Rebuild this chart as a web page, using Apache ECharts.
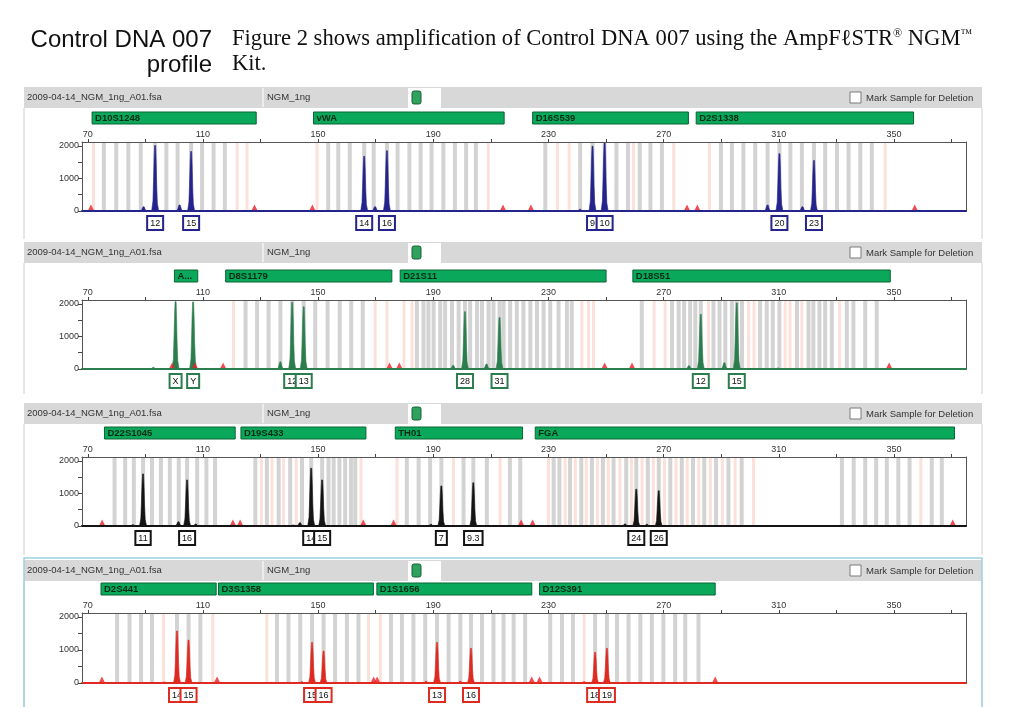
<!DOCTYPE html>
<html><head><meta charset="utf-8">
<script src="https://cdn.jsdelivr.net/npm/echarts@6/dist/echarts.min.js"></script>
<style>html,body{margin:0;padding:0;background:#fff;}#chart{width:1024px;height:707px;}</style>
</head><body><div id="chart"></div>
<script>
// ---- axis ticks / labels ----
const xTicks = [70,90,110,130,150,170,190,210,230,250,270,290,310,330,350,370];
const xLabels = [70,110,150,190,230,270,310,350];
const yTicks = [0,500,1000,1500,2000];
const yLabels = [0,1000,2000];

// ---- header texts ----
const sampleFile = '2009-04-14_NGM_1ng_A01.fsa';
const sampleName = 'NGM_1ng';
const markText = 'Mark Sample for Deletion';

// ---- panel 1 (blue dye) ----
const p1LocusNames = ['D10S1248','vWA','D16S539','D2S1338'];
const p1LocusRanges = [[71.5,128.5],[148.4,214.6],[224.5,278.6],[281.3,356.8]];
const p1Peaks = [[89.4,130],[93.4,2010],[101.9,185],[105.9,1830],[166.0,1680],[169.8,130],[173.9,1850],[241.0,50],[245.3,1990],[249.5,2100],[306.1,185],[310.2,1760],[318.2,130],[322.2,1555]];
const p1Alleles = ['12','15','14','16','9','10','20','23'];
const p1AllelePos = [93.4,105.9,166.0,173.9,245.3,249.5,310.2,322.2];
const p1Markers = [71.1,127.9,148.0,214.2,223.9,278.1,281.7,357.2];
const p1GrayBins = [75.6,79.9,84.1,88.4,93.4,97.3,101.2,105.9,109.7,113.7,117.6,153.5,157.0,161.0,166.0,169.3,173.9,177.6,181.7,185.6,189.4,193.5,197.5,201.4,204.8,228.9,241.0,245.3,249.5,253.6,257.6,261.7,265.4,269.4,289.9,293.7,297.7,301.8,306.1,310.2,314.0,318.0,322.2,326.1,330.2,334.2,338.3,342.3];
const p1PinkBins = [72.0,121.9,125.3,149.6,209.1,233.1,237.2,259.5,273.5,285.9,346.9];

// ---- panel 2 (green dye) ----
const p2LocusNames = ['A...','D8S1179','D21S11','D18S51'];
const p2LocusRanges = [[100.1,108.2],[117.9,175.6],[178.5,250.0],[259.3,348.7]];
const p2Peaks = [[92.8,50],[100.5,2070],[106.6,2060],[136.9,220],[141.0,2050],[145.0,1910],[196.9,110],[201.0,1760],[208.5,150],[213.0,1580],[278.8,100],[282.9,1680],[291.1,190],[295.4,2030],[309.7,30]];
const p2Alleles = ['X','Y','12','13','28','31','12','15'];
const p2AllelePos = [100.5,106.6,141.0,145.0,201.0,213.0,282.9,295.4];
const p2Markers = [99.3,107.2,117.0,174.8,178.2,249.5,259.0,348.3];
const p2GrayBins = [124.8,128.8,132.8,136.9,141.0,145.0,149.0,153.3,157.5,161.5,165.5,184.3,186.6,188.3,190.1,192.4,194.1,196.5,198.8,201.0,202.8,205.2,206.9,209.2,210.9,213.0,214.4,216.7,219.0,221.3,223.7,226.0,228.3,230.6,233.5,236.4,238.1,262.4,272.9,275.2,277.1,279.2,281.0,282.9,287.3,289.4,291.4,293.7,295.4,297.2,303.5,305.8,307.9,310.2,316.3,320.3,322.0,324.1,326.1,328.4,333.6,335.9,340.0,344.0];
const p2PinkBins = [120.6,169.8,173.9,179.8,182.6,241.6,243.9,245.6,266.7,270.5,285.6,299.5,301.4,312.2,313.9,318.0,331.1];

// ---- panel 3 (black dye) ----
const p3LocusNames = ['D22S1045','D19S433','TH01','FGA'];
const p3LocusRanges = [[75.8,121.2],[123.2,166.6],[176.8,221.0],[225.4,371.0]];
const p3Peaks = [[85.7,40],[89.2,1600],[101.5,130],[104.5,1415],[107.5,60],[141.4,30],[143.7,100],[147.6,1775],[151.4,1415],[189.2,50],[192.8,1230],[203.9,1330],[256.6,60],[260.5,1130],[264.2,50],[268.3,1085]];
const p3Alleles = ['11','16','14','15','7','9.3','24','26'];
const p3AllelePos = [89.2,104.5,147.6,151.4,192.8,203.9,260.5,268.3];
const p3Markers = [75.0,120.4,122.9,165.7,176.2,220.5,224.5,370.4];
const p3GrayBins = [79.3,83.0,86.0,89.2,92.3,95.4,98.5,101.6,104.5,108.0,111.2,114.2,128.2,132.2,136.3,140.3,144.4,147.6,151.4,153.6,155.4,157.4,159.4,161.4,162.9,180.8,184.9,188.9,192.8,200.5,203.9,208.6,216.6,220.2,231.8,233.8,237.5,241.4,245.1,248.9,252.6,257.0,260.5,264.5,268.3,272.3,276.3,280.2,284.1,288.2,292.5,297.1,331.9,336.0,340.0,343.8,347.5,351.5,355.4,363.1,366.6];
const p3PinkBins = [130.3,134.0,138.0,142.4,164.9,177.4,197.0,213.2,230.0,235.8,239.3,243.1,247.0,250.8,254.8,258.8,262.5,266.4,270.3,274.3,278.2,282.2,286.2,290.4,294.8,301.2,359.3];

// ---- panel 4 (red dye) ----
const p4LocusNames = ['D2S441','D3S1358','D1S1656','D12S391'];
const p4LocusRanges = [[74.6,114.6],[115.4,169.2],[170.4,224.2],[226.9,287.9]];
const p4Peaks = [[96.7,30],[101.0,1575],[105.0,1300],[144.4,40],[147.9,1230],[151.9,970],[187.5,50],[191.3,1230],[199.4,50],[203.1,1050],[242.4,40],[246.2,930],[250.3,1050]];
const p4Alleles = ['14','15','15','16','13','16','18','19'];
const p4AllelePos = [101.0,105.0,147.9,151.9,191.3,203.1,246.2,250.3];
const p4Markers = [74.9,114.9,169.3,170.5,224.2,226.9,287.9];
const p4GrayBins = [80.2,84.5,88.5,92.3,101.0,105.0,109.1,135.7,139.7,143.8,147.9,151.9,155.9,160.0,164.0,175.3,179.1,183.1,187.2,191.3,195.3,199.4,203.1,206.9,210.9,214.4,217.9,221.9,230.6,234.7,238.5,246.2,250.3,253.8,257.8,261.9,265.9,269.9,274.0,277.5,282.1];
const p4PinkBins = [96.3,113.4,132.2,167.5,171.6,242.4];

const panels = [
  {names:p1LocusNames, ranges:p1LocusRanges, peaks:p1Peaks, alleles:p1Alleles, allelePos:p1AllelePos, markers:p1Markers, gray:p1GrayBins, pink:p1PinkBins},
  {names:p2LocusNames, ranges:p2LocusRanges, peaks:p2Peaks, alleles:p2Alleles, allelePos:p2AllelePos, markers:p2Markers, gray:p2GrayBins, pink:p2PinkBins},
  {names:p3LocusNames, ranges:p3LocusRanges, peaks:p3Peaks, alleles:p3Alleles, allelePos:p3AllelePos, markers:p3Markers, gray:p3GrayBins, pink:p3PinkBins},
  {names:p4LocusNames, ranges:p4LocusRanges, peaks:p4Peaks, alleles:p4Alleles, allelePos:p4AllelePos, markers:p4Markers, gray:p4GrayBins, pink:p4PinkBins}
];

// ---- layout / style ----
const layout = [
  {top:142, h:69, head:87},
  {top:300, h:69, head:242},
  {top:457, h:69, head:403},
  {top:613, h:70, head:560}
];
const dye = ['#24248c','#2b7d4e','#141414','#de2a20'];
const SANS = '"Liberation Sans", Arial, sans-serif';

const grids = [], xAxes = [], yAxes = [], series = [], graphics = [];

panels.forEach((p, i) => {
  const L = layout[i];
  grids.push({left:82, top:L.top, width:884, height:L.h});
  xAxes.push({type:'value', gridIndex:i, position:'top', min:68, max:375, z:6,
    axisLine:{show:true, onZero:false, lineStyle:{color:'#555', width:1}},
    axisTick:{show:true, customValues:xTicks, length:3, lineStyle:{color:'#444'}},
    axisLabel:{show:true, customValues:xLabels, fontSize:9, color:'#333', margin:3, fontFamily:SANS, formatter:v => String(v)},
    splitLine:{show:false}});
  xAxes.push({type:'value', gridIndex:i, position:'bottom', min:68, max:375, z:6,
    axisLine:{show:true, onZero:false, lineStyle:{color:dye[i], width:2}},
    axisTick:{show:false}, axisLabel:{show:false}, splitLine:{show:false}});
  yAxes.push({type:'value', gridIndex:i, position:'left', min:0, max:2120, z:6,
    axisLine:{show:true, onZero:false, lineStyle:{color:'#555'}},
    axisTick:{show:true, customValues:yTicks, length:4, lineStyle:{color:'#444'}},
    axisLabel:{show:true, customValues:yLabels, fontSize:9, color:'#333', margin:3, fontFamily:SANS, formatter:v => String(v)},
    splitLine:{show:false}});
  yAxes.push({type:'value', gridIndex:i, position:'right', min:0, max:2120, z:6,
    axisLine:{show:true, onZero:false, lineStyle:{color:'#555'}},
    axisTick:{show:false}, axisLabel:{show:false}, splitLine:{show:false}});
  const xi = 2*i, yi = 2*i;
  const color = dye[i];

  // bins (gray and pink stripes)
  [[p.gray,'#d3d3d3',4],[p.pink,'#fbe1d9',3]].forEach(([arr, fill, w]) => {
    series.push({type:'custom', xAxisIndex:xi, yAxisIndex:yi, z:1, silent:true,
      data: arr.map(v => [v, 0]), encode:{x:0, y:1},
      renderItem:(params, api) => {
        const c = api.coord([api.value(0), 0]);
        const cs = params.coordSys;
        return {type:'rect', shape:{x:c[0]-w/2, y:cs.y+1, width:w, height:cs.height-2}, style:{fill}};
      }});
  });

  // peaks
  series.push({type:'custom', xAxisIndex:xi, yAxisIndex:yi, z:3, silent:true,
    data: p.peaks, encode:{x:0, y:1},
    renderItem:(params, api) => {
      const t = api.coord([api.value(0), api.value(1)]);
      const b = api.coord([api.value(0), 0]);
      const h = b[1] - t[1];
      return {type:'polygon', shape:{points:[
        [b[0]-3.5, b[1]], [b[0]-2.2, b[1]-h*0.15], [b[0]-1.6, b[1]-h*0.45], [b[0]-1.0, b[1]-h*0.8], [t[0]-0.5, t[1]],
        [t[0]+0.5, t[1]], [b[0]+1.0, b[1]-h*0.75], [b[0]+1.5, b[1]-h*0.4], [b[0]+2.2, b[1]-h*0.12], [b[0]+3.5, b[1]]]},
        style:{fill:color, stroke:color, lineWidth:0.6}};
    }});

  // red markers on baseline
  series.push({type:'scatter', xAxisIndex:xi, yAxisIndex:yi, z:4, silent:true,
    data: p.markers.map(v => [v, 0]), symbol:'triangle', symbolSize:[7,7], symbolOffset:[0,-3],
    itemStyle:{color:'#ee1d25'}});

  // locus bars
  series.push({type:'custom', xAxisIndex:xi, yAxisIndex:yi, z:4, silent:true,
    data: p.ranges, encode:{x:[0,1]},
    renderItem:(params, api) => {
      const s = api.coord([api.value(0), 0]);
      const e = api.coord([api.value(1), 0]);
      const y = params.coordSys.y - 30;
      return {type:'group', children:[
        {type:'rect', shape:{x:s[0], y:y, width:e[0]-s[0], height:12}, style:{fill:'#0aa85b', stroke:'#0b6434', lineWidth:1}},
        {type:'text', style:{text:p.names[params.dataIndex], x:s[0]+3, y:y+6.5, verticalAlign:'middle', font:'bold 9.5px ' + SANS, fill:'#082a14'}}
      ]};
    }});

  // allele boxes
  series.push({type:'custom', xAxisIndex:xi, yAxisIndex:yi, z:5, silent:true,
    data: p.allelePos.map(v => [v, 0]), encode:{x:0, y:1},
    renderItem:(params, api) => {
      const b = api.coord([api.value(0), 0]);
      return {type:'text', style:{text:p.alleles[params.dataIndex], x:b[0], y:b[1]+6,
        align:'center', verticalAlign:'top', font:'9px ' + SANS, fill:'#111',
        backgroundColor:'#fff', borderColor:color, borderWidth:2, padding:[2,2,1,2]}};
    }});

  // header chrome
  const hy = L.head;
  graphics.push(
    {type:'rect', shape:{x:24, y:hy, width:958, height:21}, style:{fill:'#d8d8d8'}, z:0},
    {type:'line', shape:{x1:263, y1:hy+1, x2:263, y2:hy+20}, style:{stroke:'#f4f4f4', lineWidth:1.5}},
    {type:'text', style:{text:sampleFile, x:27, y:hy+10.5, verticalAlign:'middle', font:'9.5px ' + SANS, fill:'#333'}},
    {type:'text', style:{text:sampleName, x:267, y:hy+10.5, verticalAlign:'middle', font:'9.5px ' + SANS, fill:'#333'}},
    {type:'rect', shape:{x:408, y:hy+1, width:33, height:20}, style:{fill:'#ffffff'}},
    {type:'rect', shape:{x:412, y:hy+4, width:9, height:13, r:2}, style:{fill:'#2fa25e', stroke:'#1b5e36', lineWidth:1}},
    {type:'rect', shape:{x:850, y:hy+5, width:11, height:11}, style:{fill:'#ffffff', stroke:'#7a7a7a', lineWidth:1}},
    {type:'text', style:{text:markText, x:866, y:hy+11, verticalAlign:'middle', font:'9.5px ' + SANS, fill:'#333'}},
    {type:'line', shape:{x1:24, y1:hy+21, x2:24, y2:hy+152}, style:{stroke:'#d0d0d0', lineWidth:1}},
    {type:'line', shape:{x1:982, y1:hy+21, x2:982, y2:hy+152}, style:{stroke:'#d0d0d0', lineWidth:1}}
  );
});

// selected-panel frame (panel 4)
graphics.push(
  {type:'polyline', shape:{points:[[24,707],[24,558],[982,558],[982,707]]}, style:{stroke:'#9fcfe2', lineWidth:1.5, fill:null}}
);

// title text
graphics.push(
  {type:'text', style:{text:'Control DNA 007', x:212, y:28, align:'right', verticalAlign:'alphabetic', font:'24px ' + SANS, fill:'#111'}},
  {type:'text', style:{text:'profile', x:212, y:53, align:'right', verticalAlign:'alphabetic', font:'24px ' + SANS, fill:'#111'}},
  {type:'text', style:{text:'Figure 2 shows amplification of Control DNA 007 using the AmpF\u2113STR{sup|\u00AE} NGM{sup|\u2122}', x:232, y:28, verticalAlign:'alphabetic', font:'22.6px "Liberation Serif", "Times New Roman", serif', fill:'#111',
    rich:{sup:{fontSize:12, fontFamily:'"Liberation Serif", serif', verticalAlign:'top', padding:[0,0,10,0]}}}},
  {type:'text', style:{text:'Kit.', x:232, y:53, verticalAlign:'alphabetic', font:'22.6px "Liberation Serif", "Times New Roman", serif', fill:'#111'}}
);

const chart = echarts.init(document.getElementById('chart'), null, {renderer:'canvas'});
chart.setOption({
  animation:false,
  backgroundColor:'#ffffff',
  grid:grids, xAxis:xAxes, yAxis:yAxes, series:series,
  graphic:graphics
});
</script></body></html>
